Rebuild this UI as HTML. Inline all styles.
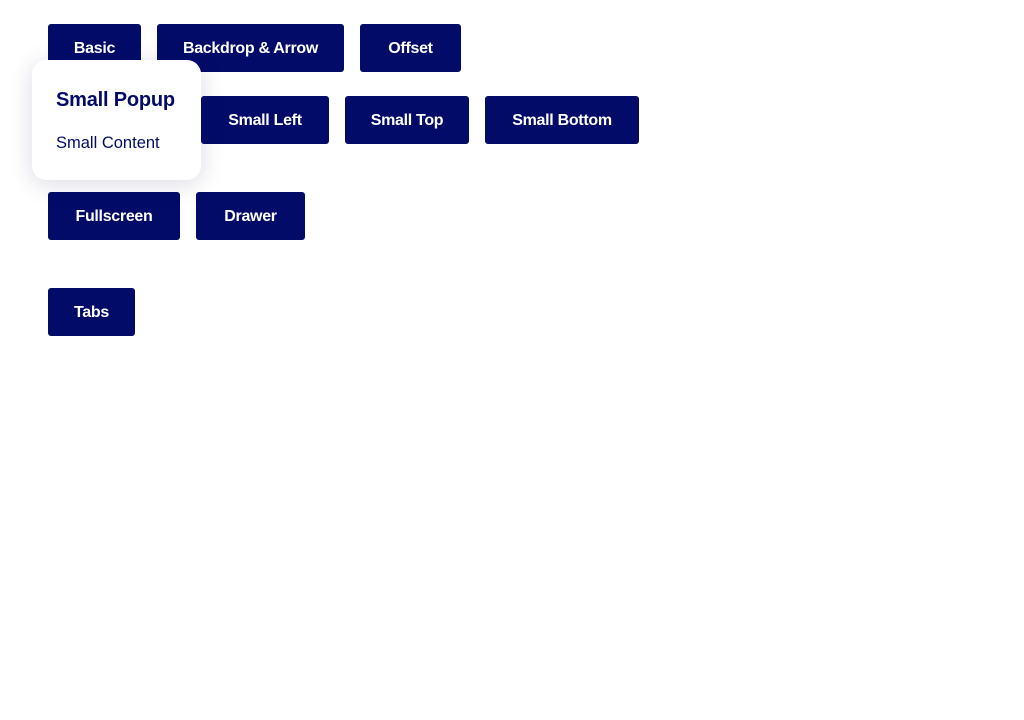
<!DOCTYPE html>
<html><head><style>
body{margin:0;width:1024px;height:720px;background:#fff;position:relative;font-family:"Liberation Sans",sans-serif;overflow:hidden}
.b{position:absolute;height:48px;background:#020b68;color:#fff;border-radius:3px;font-weight:bold;font-size:16px;line-height:48px;text-align:center;letter-spacing:-0.3px}
.p{position:absolute;left:32px;top:60px;width:169px;height:120px;background:#fff;border-radius:14px;box-shadow:0 4px 24px rgba(10,15,80,0.15)}
</style></head><body>
<div class="b" style="left:48px;top:24px;width:93px;line-height:49px">Basic</div>
<div class="b" style="left:157px;top:24px;width:187px;line-height:49px">Backdrop &amp; Arrow</div>
<div class="b" style="left:360px;top:24px;width:101px;line-height:49px">Offset</div>
<div class="b" style="left:48px;top:96px;width:137px;line-height:49px">Small Right</div>
<div class="b" style="left:201px;top:96px;width:128px;line-height:49px">Small Left</div>
<div class="b" style="left:345px;top:96px;width:124px;line-height:49px">Small Top</div>
<div class="b" style="left:485px;top:96px;width:154px;line-height:49px">Small Bottom</div>
<div class="b" style="left:48px;top:192px;width:132px;line-height:49px">Fullscreen</div>
<div class="b" style="left:196px;top:192px;width:109px;line-height:49px">Drawer</div>
<div class="b" style="left:48px;top:288px;width:87px;line-height:49px">Tabs</div>
<div class="p">
<div style="position:absolute;left:24px;top:29px;font-size:20px;font-weight:bold;color:#020b68;letter-spacing:-0.2px">Small Popup</div>
<div style="position:absolute;left:24px;top:74px;font-size:16.5px;color:#020b68">Small Content</div>
</div>
</body></html>
